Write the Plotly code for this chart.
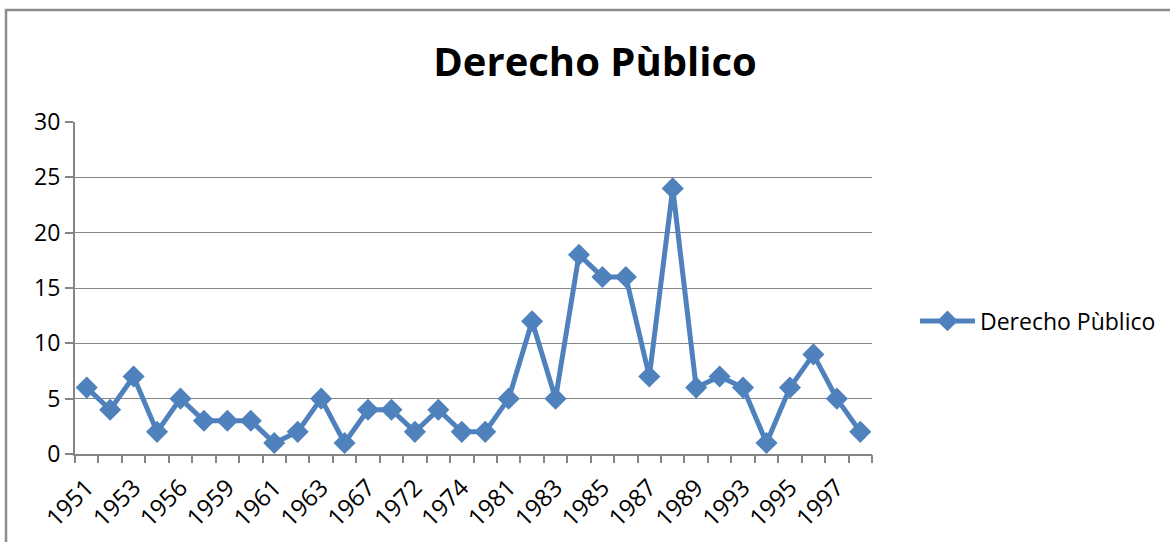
import plotly.graph_objects as go

# Data (only every other category is labelled)
years = ["1951", "1952", "1953", "1955", "1956", "1958", "1959", "1960", "1961", "1962",
         "1963", "1965", "1967", "1970", "1972", "1973", "1974", "1980", "1981", "1982",
         "1983", "1984", "1985", "1986", "1987", "1988", "1989", "1991", "1993", "1994",
         "1995", "1996", "1997", "1998"]
values = [6, 4, 7, 2, 5, 3, 3, 3, 1, 2,
          5, 1, 4, 4, 2, 4, 2, 2, 5, 12,
          5, 18, 16, 16, 7, 24, 6, 7, 6, 1,
          6, 9, 5, 2]
y_ticks = [0, 5, 10, 15, 20, 25, 30]

series_name = "Derecho Pùblico"
blue = "#4F81BD"
grey = "#868686"
font = "Open Sans, Calibri, sans-serif"

fig = go.Figure()

fig.add_trace(go.Scatter(
    x=years,
    y=values,
    mode="lines+markers",
    name=series_name,
    line=dict(color=blue, width=5),
    marker=dict(symbol="diamond", size=17, color=blue),
))

# invisible trace on a linear overlay axis so tick marks sit between categories
fig.add_trace(go.Scatter(
    x=[-0.5, len(years) - 0.5],
    y=[0, 0],
    xaxis="x2",
    mode="lines",
    line=dict(width=0),
    showlegend=False,
    hoverinfo="skip",
))

fig.update_layout(
    width=1170,
    height=542,
    paper_bgcolor="white",
    plot_bgcolor="white",
    margin=dict(l=75, r=298, t=122, b=88, autoexpand=False),
    title=dict(
        text="<b>Derecho Pùblico</b>",
        x=595 / 1170,
        xanchor="center",
        y=1 - 62 / 542,
        yanchor="middle",
        font=dict(family=font, size=40, color="black"),
    ),
    font=dict(family=font, color="black"),
    showlegend=True,
    legend=dict(
        x=(915 - 75) / 797,
        y=(454 - 321) / 332,
        xanchor="left",
        yanchor="middle",
        font=dict(family=font, size=23, color="black"),
        itemwidth=55,
        bgcolor="rgba(0,0,0,0)",
    ),
    xaxis=dict(
        type="category",
        categoryorder="array",
        categoryarray=years,
        range=[-0.5, len(years) - 0.5],
        tickmode="array",
        tickvals=years[::2],
        ticktext=years[::2],
        tickangle=-45,
        ticks="",
        ticklabelstandoff=8,
        showgrid=False,
        showline=True,
        linecolor=grey,
        linewidth=2,
        tickfont=dict(family=font, size=24, color="black"),
        fixedrange=True,
    ),
    xaxis2=dict(
        overlaying="x",
        anchor="y",
        side="bottom",
        range=[-0.5, len(years) - 0.5],
        tickmode="linear",
        tick0=-0.5,
        dtick=1,
        ticks="outside",
        ticklen=8,
        tickwidth=2,
        tickcolor=grey,
        showticklabels=False,
        showgrid=False,
        zeroline=False,
    ),
    yaxis=dict(
        range=[0, 30],
        tickvals=y_ticks,
        ticks="outside",
        ticklen=8,
        tickwidth=2,
        tickcolor=grey,
        showgrid=True,
        gridcolor=grey,
        gridwidth=1,
        showline=True,
        linecolor=grey,
        linewidth=2,
        zeroline=False,
        tickfont=dict(family=font, size=23, color="black"),
        fixedrange=True,
    ),
)

# outer chart border (Excel chart area frame)
fig.add_shape(
    type="rect",
    xref="paper", yref="paper",
    x0=(6 - 75) / 797, x1=(1180 - 75) / 797,
    y0=(454 - 560) / 332, y1=(454 - 10) / 332,
    line=dict(color="#8c8c8c", width=2.5),
    layer="below",
)

fig.write_html(
    "out.html",
    config={"displayModeBar": False},
    post_script="document.body.style.margin='0';",
)
